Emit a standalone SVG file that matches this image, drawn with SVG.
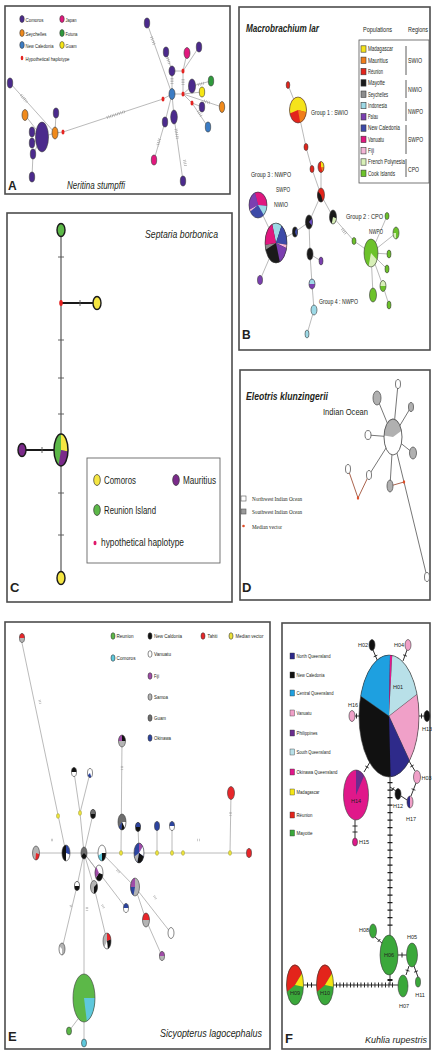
<svg xmlns="http://www.w3.org/2000/svg" width="432" height="1051" viewBox="0 0 432 1051">
<style>
.frame{fill:none;stroke:#4d4d4d;stroke-width:1.6}
.t{font-family:"Liberation Sans",Arial,sans-serif;fill:#231f20}
.s{font-family:"Liberation Serif","Times New Roman",serif;fill:#231f20}
.it{font-style:italic}
.b{font-weight:bold}
.e{stroke:#a8a8a8;stroke-width:0.8;fill:none}
.ek{stroke:#1a1a1a;stroke-width:0.9;fill:none}
.ed{stroke:#666;stroke-width:0.9;fill:none}
.n{stroke:#3a3a3a;stroke-width:0.6}
.o{fill:none;stroke:#3a3a3a;stroke-width:0.6}
.h{fill:none;stroke:#8a8a8a;stroke-width:3;stroke-dasharray:0.5 1.3}
.hs{fill:none;stroke:#9a9a9a;stroke-width:2.4;stroke-dasharray:0.5 1}
.tk{fill:none;stroke:#1a1a1a;stroke-width:0.9}
.cn{stroke:#1a1a1a;stroke-width:1.4}
.dn{stroke:#555;stroke-width:0.8}
.mv{fill:#ece23a;stroke:#8a8a3a;stroke-width:0.4}
</style>
<rect x="0" y="0" width="432" height="1051" fill="#ffffff"/>

<!-- ================= PANEL A ================= -->
<g id="panelA">
<rect class="frame" x="5" y="6" width="225" height="188"/>
<g id="A-legend">
<ellipse cx="22" cy="19" rx="2.2" ry="3.5" fill="#4b2a8c" class="n"/><text class="t" x="25.5" y="21.5" font-size="6" textLength="18" lengthAdjust="spacingAndGlyphs">Comoros</text>
<ellipse cx="22" cy="33" rx="2.2" ry="3.5" fill="#f08a1c" class="n"/><text class="t" x="25.5" y="35.5" font-size="6" textLength="21" lengthAdjust="spacingAndGlyphs">Seychelles</text>
<ellipse cx="22" cy="45" rx="2.2" ry="3.5" fill="#3b7cc4" class="n"/><text class="t" x="25.5" y="47.5" font-size="6" textLength="28" lengthAdjust="spacingAndGlyphs">New Caledonia</text>
<ellipse cx="22" cy="58" rx="1.3" ry="2.2" fill="#e52421"/><text class="t" x="25.5" y="60.5" font-size="6" textLength="44" lengthAdjust="spacingAndGlyphs">Hypothetical haplotype</text>
<ellipse cx="62" cy="19" rx="2.2" ry="3.5" fill="#e2187e" class="n"/><text class="t" x="65.5" y="21.5" font-size="6" textLength="11" lengthAdjust="spacingAndGlyphs">Japan</text>
<ellipse cx="62" cy="33" rx="2.2" ry="3.5" fill="#2f9a3c" class="n"/><text class="t" x="65.5" y="35.5" font-size="6" textLength="12" lengthAdjust="spacingAndGlyphs">Futuna</text>
<ellipse cx="62" cy="45" rx="2.2" ry="3.5" fill="#f6e614" class="n"/><text class="t" x="65.5" y="47.5" font-size="6" textLength="11" lengthAdjust="spacingAndGlyphs">Guam</text>
</g>
<g id="A-edges">
<path class="e" d="M10,83 L55,133 M25,115 L42,137 M32,132 L42,137 M32,143 L42,137 M33,154 L42,137 M33,154 L32,177 M56,113 L55,133 M42,137 L55,133 M55,133 L63,132 M63,132 L163,99 M163,99 L172,94 M172,94 L147,23 M172,94 L172,71 M166,52 L172,71 M172,71 L183,71 M183,71 L187,53 M183,71 L199,47 M183,71 L183,94 M172,94 L183,94 M183,94 L192,86 M192,86 L211,81 M183,94 L202,92 M183,94 L222,107 M183,94 L192,103 M192,103 L202,107 M192,103 L208,127 M172,94 L174,117 M172,94 L165,122 M165,122 L154,160 M174,117 L183,181"/>
<path class="h" d="M21,95 L27,102 M107,117.5 L125,111.5 M151.5,37 L154.5,45.5 M176,129 L177.5,139 M159.5,139 L157.5,146 M198,111 L202,117 M204,101 L210,103 M183,79 L183,85 M172,78 L172,85 M167.5,58 L169.5,64 M198,84.7 L205,82.9 M184.5,160 L185.5,166"/>
</g>
<g id="A-nodes">
<ellipse class="n" cx="10" cy="83" rx="2.7" ry="5" fill="#4b2a8c"/>
<ellipse class="n" cx="25" cy="115" rx="3" ry="5.5" fill="#f08a1c"/>
<ellipse class="n" cx="32" cy="132" rx="2.7" ry="5" fill="#4b2a8c"/>
<ellipse class="n" cx="32" cy="143" rx="2.7" ry="5" fill="#4b2a8c"/>
<ellipse class="n" cx="33" cy="154" rx="2.7" ry="5" fill="#4b2a8c"/>
<ellipse class="n" cx="32" cy="177" rx="2.7" ry="5" fill="#4b2a8c"/>
<ellipse class="n" cx="56" cy="113" rx="2.7" ry="5" fill="#4b2a8c"/>
<ellipse class="n" cx="55" cy="133" rx="3" ry="6" fill="#f08a1c"/>
<ellipse cx="63" cy="132" rx="1.5" ry="2.5" fill="#e52421"/>
<ellipse class="n" cx="42" cy="137" rx="6.5" ry="15" fill="#4b2a8c"/>
<ellipse class="n" cx="147" cy="23" rx="2.7" ry="5" fill="#4b2a8c"/>
<ellipse class="n" cx="166" cy="52" rx="2.7" ry="5" fill="#4b2a8c"/>
<ellipse class="n" cx="187" cy="53" rx="3" ry="5.5" fill="#e2187e"/>
<ellipse class="n" cx="199" cy="47" rx="2.7" ry="5" fill="#4b2a8c"/>
<ellipse class="n" cx="172" cy="71" rx="3" ry="5" fill="#4b2a8c"/>
<ellipse cx="183" cy="71" rx="1.5" ry="2.5" fill="#e52421"/>
<ellipse class="n" cx="192" cy="86" rx="3.5" ry="7" fill="#4b2a8c"/>
<ellipse class="n" cx="211" cy="81" rx="2.7" ry="5" fill="#2f9a3c"/>
<ellipse class="n" cx="202" cy="92" rx="2.7" ry="5" fill="#f6e614"/>
<ellipse class="n" cx="172" cy="94" rx="3" ry="5.5" fill="#3b7cc4"/>
<ellipse cx="183" cy="94" rx="1.5" ry="2.5" fill="#e52421"/>
<ellipse cx="163" cy="99" rx="1.5" ry="2.5" fill="#e52421"/>
<ellipse cx="192" cy="103" rx="1.5" ry="2.5" fill="#e52421"/>
<ellipse class="n" cx="202" cy="107" rx="2.7" ry="5" fill="#4b2a8c"/>
<ellipse class="n" cx="222" cy="107" rx="2.7" ry="5.5" fill="#f08a1c"/>
<ellipse class="n" cx="208" cy="127" rx="2.7" ry="5" fill="#3b7cc4"/>
<ellipse class="n" cx="165" cy="122" rx="2.7" ry="5" fill="#4b2a8c"/>
<ellipse class="n" cx="174" cy="117" rx="3.3" ry="7" fill="#4b2a8c"/>
<ellipse class="n" cx="154" cy="160" rx="2.7" ry="5" fill="#e2187e"/>
<ellipse class="n" cx="183" cy="181" rx="2.7" ry="5" fill="#4b2a8c"/>
</g>
<text class="t b" x="8" y="190" font-size="12">A</text>
<text class="t it" x="67" y="189" font-size="11" textLength="58" lengthAdjust="spacingAndGlyphs">Neritina stumpffi</text>
</g>

<!-- ================= PANEL B ================= -->
<g id="panelB">
<rect class="frame" x="239" y="7" width="191" height="343"/>
<text class="t it b" x="246" y="32" font-size="10.5" textLength="73" lengthAdjust="spacingAndGlyphs">Macrobrachium lar</text>
<text class="t" x="363" y="32" font-size="7" textLength="29" lengthAdjust="spacingAndGlyphs">Populations</text>
<text class="t" x="408" y="32" font-size="7" textLength="20" lengthAdjust="spacingAndGlyphs">Regions</text>
<g id="B-legend">
<rect x="359" y="40" width="70" height="143" fill="none" stroke="#555" stroke-width="0.8"/>
<g class="n">
<rect x="361" y="45.8" width="5" height="6.4" fill="#f5e31a"/>
<rect x="361" y="57.1" width="5" height="6.4" fill="#f07d1a"/>
<rect x="361" y="68.4" width="5" height="6.4" fill="#e3241b"/>
<rect x="361" y="79.7" width="5" height="6.4" fill="#1a1a1a"/>
<rect x="361" y="91" width="5" height="6.4" fill="#8c8c8c"/>
<rect x="361" y="102.3" width="5" height="6.4" fill="#9dd9e6"/>
<rect x="361" y="113.6" width="5" height="6.4" fill="#7b3fb0"/>
<rect x="361" y="124.9" width="5" height="6.4" fill="#3d4aa8"/>
<rect x="361" y="136.2" width="5" height="6.4" fill="#e0177f"/>
<rect x="361" y="147.5" width="5" height="6.4" fill="#f4b6d6"/>
<rect x="361" y="158.8" width="5" height="6.4" fill="#d8f0b8"/>
<rect x="361" y="170.1" width="5" height="6.4" fill="#6cc22a"/>
</g>
<text class="t" x="368" y="51.3" font-size="6.5" textLength="25" lengthAdjust="spacingAndGlyphs">Madagascar</text>
<text class="t" x="368" y="62.6" font-size="6.5" textLength="20" lengthAdjust="spacingAndGlyphs">Mauritius</text>
<text class="t" x="368" y="73.9" font-size="6.5" textLength="15" lengthAdjust="spacingAndGlyphs">Réunion</text>
<text class="t" x="368" y="85.2" font-size="6.5" textLength="17" lengthAdjust="spacingAndGlyphs">Mayotte</text>
<text class="t" x="368" y="96.5" font-size="6.5" textLength="20" lengthAdjust="spacingAndGlyphs">Seychelles</text>
<text class="t" x="368" y="107.8" font-size="6.5" textLength="19" lengthAdjust="spacingAndGlyphs">Indonesia</text>
<text class="t" x="368" y="119.1" font-size="6.5" textLength="10" lengthAdjust="spacingAndGlyphs">Palau</text>
<text class="t" x="368" y="130.4" font-size="6.5" textLength="32" lengthAdjust="spacingAndGlyphs">New Caledonia</text>
<text class="t" x="368" y="141.7" font-size="6.5" textLength="16" lengthAdjust="spacingAndGlyphs">Vanuatu</text>
<text class="t" x="368" y="153" font-size="6.5" textLength="6" lengthAdjust="spacingAndGlyphs">Fiji</text>
<text class="t" x="368" y="164.3" font-size="6.5" textLength="37" lengthAdjust="spacingAndGlyphs">French Polynesia</text>
<text class="t" x="368" y="175.6" font-size="6.5" textLength="27" lengthAdjust="spacingAndGlyphs">Cook Islands</text>
<path d="M406,46 L406,75 M406,80 L406,98 M406,102 L406,121 M406,125 L406,154 M406,159 L406,177" stroke="#333" stroke-width="0.8" fill="none"/>
<text class="t" x="408" y="63" font-size="7" textLength="14" lengthAdjust="spacingAndGlyphs">SWIO</text>
<text class="t" x="408" y="91.5" font-size="7" textLength="14" lengthAdjust="spacingAndGlyphs">NWIO</text>
<text class="t" x="408" y="114" font-size="7" textLength="15" lengthAdjust="spacingAndGlyphs">NWPO</text>
<text class="t" x="408" y="142" font-size="7" textLength="15" lengthAdjust="spacingAndGlyphs">SWPO</text>
<text class="t" x="408" y="171.5" font-size="7" textLength="11" lengthAdjust="spacingAndGlyphs">CPO</text>
</g>
<g id="B-edges">
<path class="e" d="M288,85 L298,110 M298,110 L306,147 L312,169 L321,195 M321,167 L321,195 M321,195 L309,222 L295,232 L276,243 M276,243 L258,205 M276,243 L260,280 M321,195 L333,217 L354,241 L371,253 M309,222 L310,254 L312,284 L314,310 L307,334 M310,254 L321,261 M371,253 L387,216 M371,253 L396,233 M371,253 L389,254 M371,253 L387,269 M371,253 L383,286 L389,305 M371,253 L373,295"/>
<path class="h" d="M342,229 L346,234"/>
</g>
<g id="B-nodes">
<ellipse class="n" cx="288" cy="85" rx="1.8" ry="3.5" fill="#e3241b"/>
<g id="B-group1">
<ellipse cx="298" cy="110" rx="8.5" ry="13" fill="#e3241b"/>
<path d="M298,110 L289.8,113.4 A8.5,13 0 1 1 306.4,112.3 Z" fill="#f5e31a"/>
<path d="M298,110 L306.4,112.3 A8.5,13 0 0 1 300.2,122.6 Z" fill="#f07d1a"/>
<ellipse class="o" cx="298" cy="110" rx="8.5" ry="13"/>
</g>
<ellipse class="n" cx="306" cy="147" rx="2" ry="3.5" fill="#e3241b"/>
<ellipse class="n" cx="312" cy="169" rx="2" ry="3.5" fill="#e3241b"/>
<g>
<ellipse cx="321" cy="167" rx="3" ry="5.5" fill="#e3241b"/>
<path d="M321,167 L321,161.5 A3,5.5 0 0 1 324,167 Z" fill="#f5e31a"/>
<path d="M321,167 L324,167 A3,5.5 0 0 1 322.5,171.8 Z" fill="#f07d1a"/>
<ellipse class="o" cx="321" cy="167" rx="3" ry="5.5"/>
</g>
<g>
<ellipse cx="321" cy="195" rx="3.5" ry="7" fill="#e3241b"/>
<path d="M321,195 L322.8,201.1 A3.5,7 0 0 1 318,191.5 Z" fill="#1a1a1a"/>
<ellipse class="o" cx="321" cy="195" rx="3.5" ry="7"/>
</g>
<g>
<ellipse cx="309" cy="222" rx="3.5" ry="7" fill="#1a1a1a"/>
<path d="M309,222 L312,218.5 A3.5,7 0 0 1 312,225.5 Z" fill="#6a4cc0"/>
<ellipse class="o" cx="309" cy="222" rx="3.5" ry="7"/>
</g>
<g>
<ellipse cx="333" cy="217" rx="3.5" ry="7" fill="#1a1a1a"/>
<path d="M333,217 L336.4,218.2 A3.5,7 0 0 1 331.8,223.6 Z" fill="#d8f0b8"/>
<ellipse class="o" cx="333" cy="217" rx="3.5" ry="7"/>
</g>
<g>
<ellipse cx="295" cy="232" rx="2.5" ry="5" fill="#1a1a1a"/>
<path d="M295,232 L296.3,227.7 A2.5,5 0 0 1 296.3,236.3 Z" fill="#3d4aa8"/>
<ellipse class="o" cx="295" cy="232" rx="2.5" ry="5"/>
</g>
<g id="B-group3">
<ellipse cx="276" cy="243" rx="11" ry="20" fill="#1a1a1a"/>
<path d="M276,243 L272.2,224.2 A11,20 0 0 1 281.5,225.7 Z" fill="#9dd9e6"/>
<path d="M276,243 L281.5,225.7 A11,20 0 0 1 287,244.7 Z" fill="#3d4aa8"/>
<path d="M276,243 L287,244.7 A11,20 0 0 1 286.6,248.2 Z" fill="#f4b6d6"/>
<path d="M276,243 L286.6,248.2 A11,20 0 0 1 279.8,261.8 Z" fill="#7b3fb0"/>
<path d="M276,243 L265.7,249.8 A11,20 0 0 1 265,244.7 Z" fill="#8c8c8c"/>
<path d="M276,243 L265,244.7 A11,20 0 0 1 272.2,224.2 Z" fill="#e0177f"/>
<ellipse class="o" cx="276" cy="243" rx="11" ry="20"/>
</g>
<g>
<ellipse cx="258" cy="205" rx="9" ry="13" fill="#3d4aa8"/>
<path d="M258,205 L254.9,192.8 A9,13 0 0 1 267,206.1 Z" fill="#e0177f"/>
<path d="M258,205 L267,206.1 A9,13 0 0 1 263.8,215 Z" fill="#9dd9e6"/>
<path d="M258,205 L250.2,211.5 A9,13 0 0 1 249.5,209.4 Z" fill="#f4b6d6"/>
<path d="M258,205 L249.5,209.4 A9,13 0 0 1 254.9,192.8 Z" fill="#7b3fb0"/>
<ellipse class="o" cx="258" cy="205" rx="9" ry="13"/>
</g>
<ellipse class="n" cx="260" cy="280" rx="2.5" ry="4.5" fill="#7b3fb0"/>
<ellipse class="n" cx="310" cy="254" rx="3" ry="6" fill="#1a1a1a"/>
<ellipse class="n" cx="321" cy="261" rx="2" ry="4" fill="#7b3fb0"/>
<g>
<ellipse cx="312" cy="284" rx="3" ry="5" fill="#7b3fb0"/>
<path d="M309,284 A3,5 0 0 1 315,284 Z" fill="#9dd9e6"/>
<ellipse class="o" cx="312" cy="284" rx="3" ry="5"/>
</g>
<ellipse class="n" cx="314" cy="310" rx="3" ry="5" fill="#9dd9e6"/>
<ellipse class="n" cx="307" cy="334" rx="2" ry="4" fill="#9dd9e6"/>
<ellipse class="n" cx="387" cy="216" rx="2" ry="3.5" fill="#6cc22a"/>
<g>
<ellipse cx="396" cy="233" rx="3" ry="6" fill="#6cc22a"/>
<path d="M396,233 L396,239 A3,6 0 0 1 393,233 Z" fill="#d8f0b8"/>
<ellipse class="o" cx="396" cy="233" rx="3" ry="6"/>
</g>
<ellipse class="n" cx="354" cy="241" rx="2" ry="3.5" fill="#6cc22a"/>
<g id="B-group2">
<ellipse cx="371" cy="253" rx="7" ry="14" fill="#6cc22a"/>
<path d="M371,253 L377.1,260 A7,14 0 0 1 368.6,266.2 Z" fill="#d8f0b8"/>
<ellipse class="o" cx="371" cy="253" rx="7" ry="14"/>
</g>
<ellipse class="n" cx="389" cy="254" rx="2" ry="4" fill="#6cc22a"/>
<ellipse class="n" cx="387" cy="269" rx="2" ry="4" fill="#6cc22a"/>
<g>
<ellipse cx="383" cy="286" rx="3" ry="5.5" fill="#6cc22a"/>
<path d="M380,286 A3,5.5 0 0 1 386,286 Z" fill="#d8f0b8"/>
<ellipse class="o" cx="383" cy="286" rx="3" ry="5.5"/>
</g>
<ellipse class="n" cx="373" cy="295" rx="3.5" ry="7" fill="#6cc22a"/>
<ellipse class="n" cx="389" cy="305" rx="2" ry="4" fill="#6cc22a"/>
</g>
<text class="t" x="311" y="115" font-size="7" textLength="37" lengthAdjust="spacingAndGlyphs">Group 1 : SWIO</text>
<text class="t" x="251" y="177" font-size="7" textLength="40" lengthAdjust="spacingAndGlyphs">Group 3 : NWPO</text>
<text class="t" x="276" y="192" font-size="7" textLength="14" lengthAdjust="spacingAndGlyphs">SWPO</text>
<text class="t" x="274" y="207" font-size="7" textLength="14" lengthAdjust="spacingAndGlyphs">NWIO</text>
<text class="t" x="346" y="219" font-size="7" textLength="37" lengthAdjust="spacingAndGlyphs">Group 2 : CPO</text>
<text class="t" x="369" y="234" font-size="7" textLength="14" lengthAdjust="spacingAndGlyphs">NWPO</text>
<text class="t" x="319" y="304" font-size="7" textLength="39" lengthAdjust="spacingAndGlyphs">Group 4 : NWPO</text>
<text class="t b" x="242" y="339" font-size="12">B</text>
</g>

<!-- ================= PANEL C ================= -->
<g id="panelC">
<rect class="frame" x="7" y="213" width="225" height="389"/>
<text class="t it" x="218" y="238" font-size="11" text-anchor="end" textLength="73" lengthAdjust="spacingAndGlyphs">Septaria borbonica</text>
<g id="C-edges">
<path d="M61,236 L61,572" stroke="#555" stroke-width="1.2" fill="none"/>
<path d="M61,303 L93,303 M26,450 L54,450" stroke="#1a1a1a" stroke-width="1.8" fill="none"/>
<path d="M58,257 L64,257 M58,340 L64,340 M58,378 L64,378 M58,414 L64,414 M58,493 L64,493 M58,535 L64,535 M80,300 L80,306 M42,447 L42,453" stroke="#555" stroke-width="0.9" fill="none"/>
</g>
<g id="C-nodes">
<ellipse class="cn" cx="61" cy="230" rx="4" ry="6.5" fill="#5cb848"/>
<ellipse cx="61" cy="303" rx="1.8" ry="3" fill="#e52020"/>
<ellipse class="cn" cx="97" cy="303" rx="4" ry="6.5" fill="#f5e642"/>
<g id="C-center">
<ellipse cx="61" cy="450" rx="7" ry="16" fill="#5cb848"/>
<path d="M61,450 L61,434 A7,16 0 0 1 68,451.4 Z" fill="#f5e642"/>
<path d="M61,450 L68,451.4 A7,16 0 0 1 58.6,465 Z" fill="#7a2a8a"/>
<ellipse cx="61" cy="450" rx="7" ry="16" fill="none" stroke="#1a1a1a" stroke-width="1.5"/>
</g>
<ellipse class="cn" cx="22" cy="450" rx="4" ry="6.5" fill="#7a2a8a"/>
<ellipse class="cn" cx="61" cy="578" rx="4" ry="6.5" fill="#f5e642"/>
</g>
<g id="C-legend">
<rect x="87" y="458" width="133" height="105" fill="none" stroke="#666" stroke-width="0.9"/>
<ellipse cx="97" cy="480" rx="3.3" ry="5.5" fill="#f5e642" stroke="#333" stroke-width="0.7"/>
<text class="t" x="104" y="484" font-size="11" textLength="32" lengthAdjust="spacingAndGlyphs">Comoros</text>
<ellipse cx="176" cy="480" rx="3.3" ry="5.5" fill="#7a2a8a" stroke="#333" stroke-width="0.7"/>
<text class="t" x="183" y="484" font-size="11" textLength="33" lengthAdjust="spacingAndGlyphs">Mauritius</text>
<ellipse cx="97" cy="510" rx="3.3" ry="5.5" fill="#5cb848" stroke="#333" stroke-width="0.7"/>
<text class="t" x="104" y="514" font-size="11" textLength="52" lengthAdjust="spacingAndGlyphs">Reunion Island</text>
<ellipse cx="95" cy="543" rx="1.5" ry="2.3" fill="#e0186a"/>
<text class="t" x="101" y="546" font-size="11" textLength="83" lengthAdjust="spacingAndGlyphs">hypothetical haplotype</text>
</g>
<text class="t b" x="10" y="592" font-size="13">C</text>
</g>

<!-- ================= PANEL D ================= -->
<g id="panelD">
<rect class="frame" x="240" y="370" width="190" height="230"/>
<text class="t it b" x="246" y="400" font-size="10" textLength="82" lengthAdjust="spacingAndGlyphs">Eleotris klunzingerii</text>
<text class="t" x="323" y="415" font-size="9.5" textLength="45" lengthAdjust="spacingAndGlyphs">Indian Ocean</text>
<g id="D-edges">
<path class="ed" d="M393,437 L377,398 M393,437 L398,384 M393,437 L411,407 M393,437 L368,435 M393,437 L413,453 M393,437 L369,475 M393,437 L390,486 M393,437 L404,482 L427,577"/>
<path d="M369,475 L358,498 L348,469 M390,486 L404,482" stroke="#a0523a" stroke-width="0.9" fill="none"/>
</g>
<g id="D-nodes">
<g id="D-center">
<ellipse cx="393" cy="437" rx="9" ry="18" fill="#ffffff"/>
<path d="M393,437 L384,435.4 A9,18 0 0 1 401.5,430.8 Z" fill="#b0b0b0"/>
<ellipse cx="393" cy="437" rx="9" ry="18" fill="none" stroke="#555" stroke-width="0.9"/>
</g>
<ellipse class="dn" cx="377" cy="398" rx="4" ry="7" fill="#b0b0b0"/>
<ellipse class="dn" cx="398" cy="384" rx="2.5" ry="4.5" fill="#ffffff"/>
<ellipse class="dn" cx="411" cy="407" rx="2.5" ry="4.5" fill="#b0b0b0"/>
<ellipse class="dn" cx="368" cy="435" rx="3" ry="4.5" fill="#ffffff"/>
<ellipse class="dn" cx="413" cy="453" rx="3.5" ry="6" fill="#b0b0b0"/>
<ellipse class="dn" cx="369" cy="475" rx="2.5" ry="4.5" fill="#ffffff"/>
<ellipse class="dn" cx="348" cy="469" rx="2.5" ry="4.5" fill="#ffffff"/>
<ellipse class="dn" cx="390" cy="486" rx="3" ry="6" fill="#b0b0b0"/>
<ellipse class="dn" cx="427" cy="577" rx="2.5" ry="4.5" fill="#ffffff"/>
<ellipse cx="404" cy="482" rx="1.2" ry="1.8" fill="#e0502a"/>
<ellipse cx="358" cy="498" rx="1.2" ry="1.8" fill="#e0502a"/>
</g>
<g id="D-legend">
<rect x="241" y="496" width="5" height="5" fill="#ffffff" stroke="#555" stroke-width="0.6"/>
<text class="s" x="252" y="501" font-size="6.5" textLength="50" lengthAdjust="spacingAndGlyphs">Northwest Indian Ocean</text>
<rect x="241" y="509" width="5" height="5" fill="#9a9a9a" stroke="#555" stroke-width="0.6"/>
<text class="s" x="252" y="514" font-size="6.5" textLength="50" lengthAdjust="spacingAndGlyphs">Southwest Indian Ocean</text>
<circle cx="243.5" cy="526" r="1.3" fill="#e0502a"/>
<text class="s" x="252" y="528.5" font-size="6.5" textLength="30" lengthAdjust="spacingAndGlyphs">Median vector</text>
</g>
<text class="t b" x="242" y="592" font-size="13">D</text>
</g>

<!-- ================= PANEL E ================= -->
<g id="panelE">
<rect class="frame" x="5" y="622" width="265" height="427"/>
<g id="E-legend">
<ellipse class="n" cx="113" cy="636" rx="2" ry="3.3" fill="#5cb848"/><text class="t" x="116.5" y="638.3" font-size="6" textLength="17" lengthAdjust="spacingAndGlyphs">Reunion</text>
<ellipse class="n" cx="150" cy="636" rx="2" ry="3.3" fill="#111"/><text class="t" x="154" y="638.3" font-size="6" textLength="28" lengthAdjust="spacingAndGlyphs">New Caldonia</text>
<ellipse class="n" cx="203" cy="636" rx="2" ry="3.3" fill="#e8262a"/><text class="t" x="207.5" y="638.3" font-size="6" textLength="10" lengthAdjust="spacingAndGlyphs">Tahiti</text>
<ellipse class="n" cx="231" cy="636" rx="2" ry="3.3" fill="#ece23a"/><text class="t" x="263.5" y="638.3" font-size="6" text-anchor="end" textLength="28" lengthAdjust="spacingAndGlyphs">Median vector</text>
<ellipse class="n" cx="113" cy="658" rx="2" ry="3.3" fill="#5ec8dc"/><text class="t" x="116.5" y="660.3" font-size="6" textLength="19" lengthAdjust="spacingAndGlyphs">Comoros</text>
<ellipse class="n" cx="150" cy="654" rx="2" ry="3.3" fill="#ffffff"/><text class="t" x="154" y="656.3" font-size="6" textLength="17" lengthAdjust="spacingAndGlyphs">Vanuatu</text>
<ellipse class="n" cx="150" cy="676" rx="2" ry="3.3" fill="#a04ca8"/><text class="t" x="154" y="678.3" font-size="6" textLength="5" lengthAdjust="spacingAndGlyphs">Fiji</text>
<ellipse class="n" cx="150" cy="697" rx="2" ry="3.3" fill="#b4b4b4"/><text class="t" x="154" y="699.3" font-size="6" textLength="14" lengthAdjust="spacingAndGlyphs">Samoa</text>
<ellipse class="n" cx="150" cy="718" rx="2" ry="3.3" fill="#6e6e6e"/><text class="t" x="154" y="720.3" font-size="6" textLength="12" lengthAdjust="spacingAndGlyphs">Guam</text>
<ellipse class="n" cx="150" cy="738" rx="2" ry="3.3" fill="#2c44a0"/><text class="t" x="154" y="740.3" font-size="6" textLength="17" lengthAdjust="spacingAndGlyphs">Okinawa</text>
</g>
<g id="E-edges">
<path class="e" d="M22,643 L66,853 M36,853 L249,853 M74,772 L80,813 L84,853 M90,773 L80,813 M93,814 L84,853 M122,741 L121,853 M138,827 L139,853 M157,826 L157,853 M172,826 L172,853 M231,793 L230,853 M84,853 L99,873 M84,853 L94,887 L107,941 M84,853 L77,886 L62,949 M84,853 L84,975 M84,853 L126,908 M102,853 L135,887 L171,933 M135,887 L146,920 L162,956 M78,1019 L69,1031 M84,1022 L84,1043"/>
<path class="hs" d="M39.6,700 L40.4,704 M51,840 L54,840 M197.5,840 L200.5,840 M122,766 L122,770 M230.5,812 L230.5,816 M117,870 L120,873 M154,896 L156,899 M70.7,905 L71.3,908 M87,907 L87,911 M102,905 L104,908"/>
</g>
<g id="E-nodes">
<g><ellipse cx="22" cy="638" rx="2.5" ry="4.5" fill="#b4b4b4"/><path d="M19.5,638 A2.5,4.5 0 0 1 24.5,638 Z" fill="#e8262a"/><ellipse class="o" cx="22" cy="638" rx="2.5" ry="4.5"/></g>
<ellipse class="mv" cx="58" cy="816" rx="1.6" ry="2.4"/>
<g><ellipse cx="36" cy="853" rx="3.5" ry="7" fill="#b4b4b4"/><path d="M36,853 L39.4,854.2 A3.5,7 0 0 1 35.4,859.9 Z" fill="#e8262a"/><ellipse class="o" cx="36" cy="853" rx="3.5" ry="7"/></g>
<g><ellipse cx="66" cy="853" rx="4" ry="8" fill="#ffffff"/><path d="M66,861 A4,8 0 0 1 66,845 Z" fill="#111"/><path d="M66,853 L66,845 A4,8 0 0 1 69.9,854.4 Z" fill="#2c44a0"/><ellipse class="o" cx="66" cy="853" rx="4" ry="8"/></g>
<g><ellipse cx="74" cy="772" rx="2.5" ry="4.5" fill="#ffffff"/><path d="M71.5,772 A2.5,4.5 0 0 1 76.5,772 Z" fill="#111"/><ellipse class="o" cx="74" cy="772" rx="2.5" ry="4.5"/></g>
<g><ellipse cx="90" cy="773" rx="2.5" ry="4.5" fill="#ffffff"/><path d="M90,773 L91.3,776.9 A2.5,4.5 0 0 1 87.8,775.3 Z" fill="#2c44a0"/><ellipse class="o" cx="90" cy="773" rx="2.5" ry="4.5"/></g>
<ellipse class="mv" cx="80" cy="813" rx="1.6" ry="2.4"/>
<g><ellipse cx="93" cy="814" rx="2.5" ry="4.5" fill="#111"/><path d="M90.5,814 A2.5,4.5 0 0 1 95.5,814 Z" fill="#6e6e6e"/><ellipse class="o" cx="93" cy="814" rx="2.5" ry="4.5"/></g>
<g><ellipse cx="84" cy="853" rx="3" ry="6" fill="#6e6e6e"/><path d="M84,853 L86.6,856 A3,6 0 0 1 81.4,856 Z" fill="#111"/><ellipse class="o" cx="84" cy="853" rx="3" ry="6"/></g>
<g><ellipse cx="102" cy="853" rx="4" ry="8" fill="#ffffff"/><path d="M102,853 L106,853 A4,8 0 0 1 102,861 Z" fill="#111"/><path d="M102,853 L102,861 A4,8 0 0 1 98.2,855.7 Z" fill="#5ec8dc"/><ellipse class="o" cx="102" cy="853" rx="4" ry="8"/></g>
<ellipse class="mv" cx="121" cy="853" rx="1.6" ry="2.4"/>
<g><ellipse cx="122" cy="822" rx="4" ry="8" fill="#6e6e6e"/><path d="M122,822 L126,822 A4,8 0 0 1 124.6,828.1 Z" fill="#ffffff"/><path d="M122,822 L124.6,828.1 A4,8 0 0 1 121.3,829.9 Z" fill="#111"/><path d="M122,822 L121.3,829.9 A4,8 0 0 1 118.9,827.1 Z" fill="#2c44a0"/><ellipse class="o" cx="122" cy="822" rx="4" ry="8"/></g>
<g><ellipse cx="122" cy="741" rx="3.5" ry="6" fill="#b4b4b4"/><path d="M122,741 L122,735 A3.5,6 0 0 1 125.5,741 Z" fill="#111"/><path d="M122,741 L118.5,741 A3.5,6 0 0 1 122,735 Z" fill="#a04ca8"/><ellipse class="o" cx="122" cy="741" rx="3.5" ry="6"/></g>
<g><ellipse cx="139" cy="853" rx="5" ry="10" fill="#2c44a0"/><path d="M139,853 L139,843 A5,10 0 0 1 142.8,846.6 Z" fill="#a04ca8"/><path d="M139,853 L142.8,846.6 A5,10 0 0 1 143.7,856.4 Z" fill="#ffffff"/><path d="M139,853 L143.7,856.4 A5,10 0 0 1 137.3,862.4 Z" fill="#111"/><path d="M139,853 L137.3,862.4 A5,10 0 0 1 134.3,856.4 Z" fill="#b4b4b4"/><ellipse class="o" cx="139" cy="853" rx="5" ry="10"/></g>
<g><ellipse cx="138" cy="827" rx="2.5" ry="4.5" fill="#111"/><path d="M135.5,827 A2.5,4.5 0 0 1 140.5,827 Z" fill="#2c44a0"/><ellipse class="o" cx="138" cy="827" rx="2.5" ry="4.5"/></g>
<ellipse class="n" cx="157" cy="826" rx="2.5" ry="4.5" fill="#2c44a0"/>
<g><ellipse cx="172" cy="826" rx="2.5" ry="4.5" fill="#ffffff"/><path d="M169.5,826 A2.5,4.5 0 0 1 174.5,826 Z" fill="#2c44a0"/><ellipse class="o" cx="172" cy="826" rx="2.5" ry="4.5"/></g>
<ellipse class="mv" cx="157" cy="853" rx="1.6" ry="2.4"/>
<ellipse class="mv" cx="172" cy="853" rx="1.6" ry="2.4"/>
<ellipse class="mv" cx="183" cy="853" rx="1.6" ry="2.4"/>
<ellipse class="mv" cx="230" cy="853" rx="1.6" ry="2.4"/>
<ellipse class="n" cx="231" cy="793" rx="3.5" ry="6.5" fill="#e8262a"/>
<ellipse class="n" cx="249" cy="853" rx="2.5" ry="4.5" fill="#e8262a"/>
<g><ellipse cx="99" cy="873" rx="4" ry="8" fill="#ffffff"/><path d="M99,873 L102.9,874.4 A4,8 0 0 1 95.9,878.1 Z" fill="#111"/><path d="M99,873 L95.9,878.1 A4,8 0 0 1 96.4,866.9 Z" fill="#a04ca8"/><ellipse class="o" cx="99" cy="873" rx="4" ry="8"/></g>
<g><ellipse cx="94" cy="887" rx="3.5" ry="6.5" fill="#b4b4b4"/><path d="M94,887 L97,883.8 A3.5,6.5 0 0 1 94,893.5 Z" fill="#111"/><ellipse class="o" cx="94" cy="887" rx="3.5" ry="6.5"/></g>
<g><ellipse cx="77" cy="886" rx="2.5" ry="4.5" fill="#111"/><path d="M74.5,886 A2.5,4.5 0 0 1 79.5,886 Z" fill="#ffffff"/><ellipse class="o" cx="77" cy="886" rx="2.5" ry="4.5"/></g>
<g><ellipse cx="135" cy="887" rx="4.5" ry="9" fill="#b4b4b4"/><path d="M135,887 L130.5,887 A4.5,9 0 0 1 135,878 Z" fill="#a04ca8"/><path d="M135,887 L133.5,895.5 A4.5,9 0 0 1 130.5,887 Z" fill="#2c44a0"/><ellipse class="o" cx="135" cy="887" rx="4.5" ry="9"/></g>
<g><ellipse cx="126" cy="908" rx="2.5" ry="4.5" fill="#ffffff"/><path d="M123.5,908 A2.5,4.5 0 0 1 128.5,908 Z" fill="#2c44a0"/><ellipse class="o" cx="126" cy="908" rx="2.5" ry="4.5"/></g>
<g><ellipse cx="146" cy="920" rx="3.5" ry="7" fill="#b4b4b4"/><path d="M142.5,920 A3.5,7 0 0 1 149.5,920 Z" fill="#e8262a"/><ellipse class="o" cx="146" cy="920" rx="3.5" ry="7"/></g>
<ellipse class="n" cx="171" cy="933" rx="3" ry="5.5" fill="#ffffff"/>
<g><ellipse cx="162" cy="956" rx="2.5" ry="4.5" fill="#b4b4b4"/><path d="M159.5,956 A2.5,4.5 0 0 1 164.5,956 Z" fill="#a04ca8"/><ellipse class="o" cx="162" cy="956" rx="2.5" ry="4.5"/></g>
<g><ellipse cx="62" cy="949" rx="3" ry="6" fill="#b4b4b4"/><path d="M62,949 L62,955 A3,6 0 0 1 59.4,946 Z" fill="#ffffff"/><ellipse class="o" cx="62" cy="949" rx="3" ry="6"/></g>
<g><ellipse cx="107" cy="941" rx="4" ry="8" fill="#b4b4b4"/><path d="M107,941 L107,933 A4,8 0 0 1 110.9,939.6 Z" fill="#e8262a"/><path d="M107,941 L110.9,939.6 A4,8 0 0 1 107.7,948.9 Z" fill="#111"/><path d="M107,941 L107.7,948.9 A4,8 0 0 1 104.4,947.1 Z" fill="#ffffff"/><ellipse class="o" cx="107" cy="941" rx="4" ry="8"/></g>
<g id="E-big"><ellipse cx="84" cy="998" rx="11" ry="24" fill="#5cb848"/><path d="M84,998 L95,998 A11,24 0 0 1 86.8,1021.2 Z" fill="#5ec8dc"/><ellipse class="o" cx="84" cy="998" rx="11" ry="24"/></g>
<ellipse class="n" cx="69" cy="1031" rx="2.5" ry="4" fill="#5cb848"/>
<ellipse class="n" cx="84" cy="1043" rx="2.5" ry="4" fill="#5ec8dc"/>
</g>
<text class="t b" x="8" y="1041" font-size="13">E</text>
<text class="t it" x="262" y="1037" font-size="11" text-anchor="end" textLength="102" lengthAdjust="spacingAndGlyphs">Sicyopterus lagocephalus</text>
</g>

<!-- ================= PANEL F ================= -->
<g id="panelF">
<rect class="frame" x="282" y="623" width="148" height="426"/>
<g id="F-legend">
<g stroke="#333" stroke-width="0.4">
<rect x="290" y="653" width="4.5" height="6" fill="#2e2a8a"/>
<rect x="290" y="672" width="4.5" height="6" fill="#111"/>
<rect x="290" y="690" width="4.5" height="6" fill="#1ea0e0"/>
<rect x="290" y="710" width="4.5" height="6" fill="#f0a0c8"/>
<rect x="290" y="730" width="4.5" height="6" fill="#6a2c8e"/>
<rect x="290" y="749" width="4.5" height="6" fill="#b8e0e8"/>
<rect x="290" y="769" width="4.5" height="6" fill="#e0188a"/>
<rect x="290" y="789" width="4.5" height="6" fill="#f5e614"/>
<rect x="290" y="812" width="4.5" height="6" fill="#e3241b"/>
<rect x="290" y="830" width="4.5" height="6" fill="#3aa83a"/>
</g>
<text class="t" x="296.5" y="658.3" font-size="6" textLength="34" lengthAdjust="spacingAndGlyphs">North Queensland</text>
<text class="t" x="296.5" y="677.3" font-size="6" textLength="28" lengthAdjust="spacingAndGlyphs">New Caledonia</text>
<text class="t" x="296.5" y="695.3" font-size="6" textLength="37" lengthAdjust="spacingAndGlyphs">Central Queensland</text>
<text class="t" x="296.5" y="715.3" font-size="6" textLength="15" lengthAdjust="spacingAndGlyphs">Vanuatu</text>
<text class="t" x="296.5" y="735.3" font-size="6" textLength="21" lengthAdjust="spacingAndGlyphs">Philippines</text>
<text class="t" x="296.5" y="754.3" font-size="6" textLength="34" lengthAdjust="spacingAndGlyphs">South Queensland</text>
<text class="t" x="296.5" y="774.3" font-size="6" textLength="41" lengthAdjust="spacingAndGlyphs">Okinawa Queensland</text>
<text class="t" x="296.5" y="794.3" font-size="6" textLength="23" lengthAdjust="spacingAndGlyphs">Madagascar</text>
<text class="t" x="296.5" y="817.3" font-size="6" textLength="16" lengthAdjust="spacingAndGlyphs">Réunion</text>
<text class="t" x="296.5" y="835.3" font-size="6" textLength="16" lengthAdjust="spacingAndGlyphs">Mayotte</text>
</g>
<g id="F-edges">
<path class="ek" d="M390,777 L390,985 M303.5,985 L398,985 M373,650 L378,662 M407,650 L403,661 M355,716 L359,716 M424,716 L419,716 M409,761 L415,771 M416,783 L411,796 M390,787 L396,791 M401,796 L407,800 M364,772 L370,762 M355,820 L355,838 M375,937 L383,944 M398,955 L406.5,955 M409,966 L406,975 M414,966 L418,977"/>
<path d="M390,782 L390,932" stroke="#1a1a1a" stroke-width="5" stroke-dasharray="1.2 6.3" fill="none"/>
<path d="M390,979 L390,981" stroke="#1a1a1a" stroke-width="5" fill="none"/>
<path d="M307,985 L314,985" stroke="#1a1a1a" stroke-width="5" stroke-dasharray="1 3" fill="none"/>
<path d="M336,985 L395,985" stroke="#1a1a1a" stroke-width="5" stroke-dasharray="0.9 2.6" fill="none"/>
<path class="tk" d="M356.5,713.5 L356.5,718.5 M421.5,713.5 L421.5,718.5 M373.7,656.8 L377.3,655.2 M403.1,654.8 L406.9,656.2 M410.3,767 L413.7,765 M411.6,788.8 L415.4,790.2 M394.1,787.3 L391.9,790.7 M365.3,766 L368.7,768 M352.5,826 L357.5,826 M352.5,832 L357.5,832 M377.7,942 L380.3,939 M402,952.5 L402,957.5 M405.6,969.9 L409.4,971.1 M414.1,972.2 L417.9,970.8"/>
</g>
<g id="F-nodes">
<g id="F-H01">
<ellipse cx="389" cy="716" rx="30" ry="61" fill="#111"/>
<path d="M389,716 L360.6,696.1 A30,61 0 0 1 390,655.1 Z" fill="#1ea0e0"/>
<path d="M389,716 L390,655.1 A30,61 0 0 1 392.2,655.3 Z" fill="#e0188a"/>
<path d="M389,716 L392.2,655.3 A30,61 0 0 1 417,694.2 Z" fill="#b8e0e8"/>
<path d="M389,716 L417,694.2 A30,61 0 0 1 409.5,760.6 Z" fill="#f0a0c8"/>
<path d="M389,716 L409.5,760.6 A30,61 0 0 1 390.6,776.9 Z" fill="#2e2a8a"/>
<path d="M389,716 L360.6,696.1 M389,716 L417,694.2 M389,716 L409.5,760.6" stroke="#555" stroke-width="0.4" fill="none"/>
<ellipse class="o" cx="389" cy="716" rx="30" ry="61"/>
</g>
<ellipse class="n" cx="372" cy="645" rx="3" ry="5.5" fill="#111"/>
<ellipse class="n" cx="408" cy="645" rx="3" ry="5.5" fill="#f0a0c8"/>
<ellipse class="n" cx="352" cy="716" rx="3" ry="5.5" fill="#f0a0c8"/>
<ellipse class="n" cx="427" cy="716" rx="3" ry="5.5" fill="#111"/>
<ellipse class="n" cx="417" cy="777" rx="3.5" ry="6.5" fill="#f0a0c8"/>
<ellipse class="n" cx="398" cy="794" rx="3" ry="5.5" fill="#111"/>
<g><ellipse cx="410" cy="802" rx="3" ry="6" fill="#f0a0c8"/><path d="M410,808 A3,6 0 0 1 410,796 Z" fill="#2e2a8a"/><ellipse class="o" cx="410" cy="802" rx="3" ry="6"/></g>
<g id="F-H14"><ellipse cx="356" cy="795" rx="12.5" ry="25" fill="#e0188a"/><path d="M356,795 L356,770 A12.5,25 0 0 1 364,775.9 Z" fill="#6a2c8e"/><ellipse class="o" cx="356" cy="795" rx="12.5" ry="25"/></g>
<ellipse class="n" cx="355" cy="842" rx="2.5" ry="4" fill="#e0188a"/>
<ellipse class="n" cx="373" cy="931" rx="3.5" ry="7" fill="#3aa83a"/>
<ellipse class="n" cx="389" cy="955" rx="9" ry="20" fill="#3aa83a"/>
<ellipse class="n" cx="412" cy="955" rx="5.5" ry="12" fill="#3aa83a"/>
<ellipse class="n" cx="403" cy="986" rx="5" ry="11" fill="#3aa83a"/>
<ellipse class="n" cx="418" cy="982" rx="2.5" ry="5" fill="#3aa83a"/>
<g id="F-H09"><ellipse cx="295" cy="985" rx="8.5" ry="20" fill="#3aa83a"/><path d="M295,985 L287,991.8 A8.5,20 0 0 1 302,973.5 Z" fill="#e3241b"/><path d="M295,985 L302,973.5 A8.5,20 0 0 1 303.5,986.7 Z" fill="#f5e614"/><ellipse class="o" cx="295" cy="985" rx="8.5" ry="20"/></g>
<g id="F-H10"><ellipse cx="325" cy="985" rx="8.5" ry="20" fill="#3aa83a"/><path d="M325,985 L317,991.8 A8.5,20 0 0 1 332,973.5 Z" fill="#e3241b"/><path d="M325,985 L332,973.5 A8.5,20 0 0 1 333.5,986.7 Z" fill="#f5e614"/><ellipse class="o" cx="325" cy="985" rx="8.5" ry="20"/></g>
</g>
<g id="F-labels" class="t" font-size="5.5" fill="#333">
<text x="368" y="647" text-anchor="end">H02</text>
<text x="404" y="647" text-anchor="end">H04</text>
<text x="398" y="689" text-anchor="middle">H01</text>
<text x="353" y="707" text-anchor="middle">H16</text>
<text x="427" y="731" text-anchor="middle">H13</text>
<text x="421.5" y="780">H03</text>
<text x="398" y="808" text-anchor="middle">H12</text>
<text x="411" y="821" text-anchor="middle">H17</text>
<text x="356" y="803" text-anchor="middle">H14</text>
<text x="359" y="844">H15</text>
<text x="369" y="932" text-anchor="end">H08</text>
<text x="389" y="957" text-anchor="middle">H06</text>
<text x="412" y="939" text-anchor="middle">H05</text>
<text x="404" y="1008" text-anchor="middle">H07</text>
<text x="420" y="997" text-anchor="middle">H11</text>
<text x="295" y="995" text-anchor="middle">H09</text>
<text x="325" y="995" text-anchor="middle">H10</text>
</g>
<text class="t b" x="285" y="1043" font-size="13">F</text>
<text class="t it" x="365" y="1043" font-size="9">Kuhlia rupestris</text>
</g>
</svg>
